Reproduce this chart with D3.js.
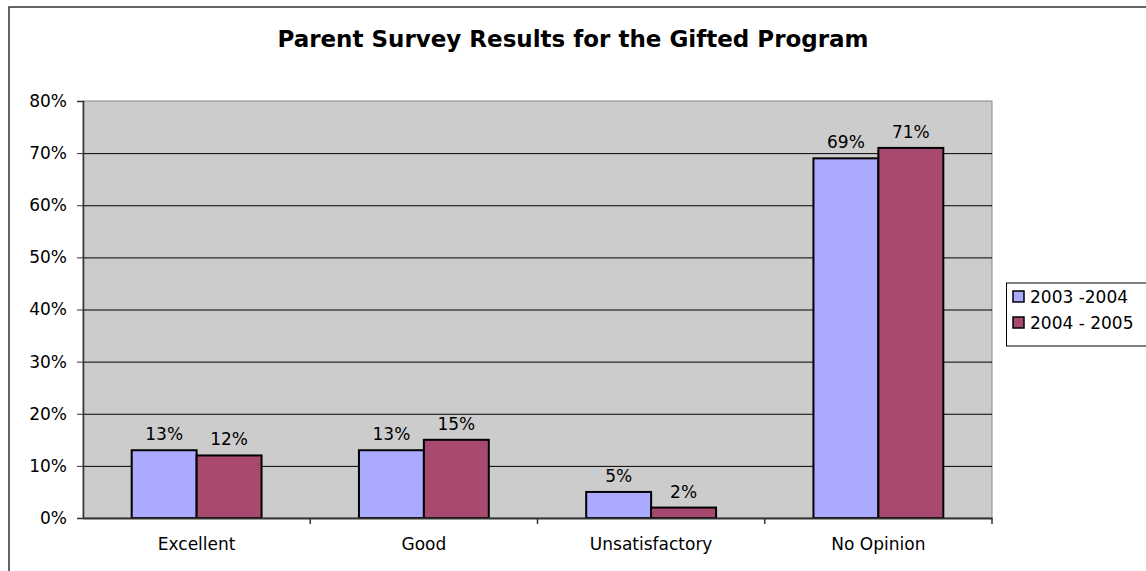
<!DOCTYPE html>
<html><head><meta charset="utf-8">
<script src="https://cdn.jsdelivr.net/npm/d3@7"></script>
<style>body{margin:0;background:#fff}svg{display:block}text{font-family:Verdana,"DejaVu Sans",sans-serif;fill:#000}</style>
</head><body>
<svg id="c" width="1146" height="571"></svg>
<script>
const categories = ["Excellent", "Good", "Unsatisfactory", "No Opinion"];
const seriesNames = ["2003 -2004", "2004 - 2005"];
const values2003 = [13, 13, 5, 69];
const values2004 = [12, 15, 2, 71];
const yTicks = [0, 10, 20, 30, 40, 50, 60, 70, 80];
const colors = ["#aaaaff", "#a8496f"];

const FONT = "Verdana, 'DejaVu Sans', sans-serif";
const svg = d3.select("#c");
const L = 83, R = 992, T = 101, B = 518;

svg.append("rect").attr("x", 9).attr("y", 7).attr("width", 1300).attr("height", 700)
  .attr("fill", "#fff").attr("stroke", "#333").attr("stroke-width", 1.5);

svg.append("text").attr("x", 573).attr("y", 47).attr("text-anchor", "middle")
  .style("font-weight", "bold").style("font-size", "23px")
  .text("Parent Survey Results for the Gifted Program");

const x = d3.scaleBand().domain(categories).range([L, R]).padding(0);
const y = d3.scaleLinear().domain([0, 80]).range([B, T]);

svg.append("rect").attr("x", L).attr("y", T).attr("width", R - L).attr("height", B - T)
  .attr("fill", "#cccccc").attr("stroke", "#888").attr("stroke-width", 1);

svg.append("g").selectAll("line").data(yTicks.filter(d => d > 0 && d < 80)).join("line")
  .attr("x1", L).attr("x2", R).attr("y1", d => y(d) + 0.5).attr("y2", d => y(d) + 0.5)
  .attr("stroke", "#000").attr("stroke-width", 1);

const bw = x.bandwidth() / 3.5;
const series = [values2003, values2004];
series.forEach((vals, si) => {
  const g = svg.append("g");
  g.selectAll("rect").data(categories).join("rect")
    .attr("x", (c) => x(c) + x.bandwidth() / 2 - bw + si * bw)
    .attr("y", (c, i) => y(vals[i]))
    .attr("width", bw)
    .attr("height", (c, i) => B - y(vals[i]))
    .attr("fill", colors[si]).attr("stroke", "#000").attr("stroke-width", 2);
  g.selectAll("text").data(categories).join("text")
    .attr("x", (c) => x(c) + x.bandwidth() / 2 - bw / 2 + si * bw)
    .attr("y", (c, i) => y(vals[i]) - 10)
    .attr("text-anchor", "middle").style("font-size", "17px")
    .text((c, i) => vals[i] + "%");
});

// Y axis
const yAxis = svg.append("g").attr("transform", `translate(${L},0)`)
  .call(d3.axisLeft(y).tickValues(yTicks).tickSize(6).tickFormat(d => d + "%"));
yAxis.select(".domain").attr("stroke", "#333").attr("stroke-width", 1.5);
yAxis.selectAll(".tick line").attr("stroke", "#333");
yAxis.selectAll(".tick text").style("font-size", "17px").attr("x", -16).attr("fill", "#000").style("font-family", FONT);

// X axis
const xAxis = svg.append("g").attr("transform", `translate(0,${B})`)
  .call(d3.axisBottom(x).tickSize(0));
xAxis.select(".domain").attr("stroke", "#333").attr("stroke-width", 2);
xAxis.selectAll(".tick text").style("font-size", "17px").attr("fill", "#000")
  .attr("y", 32).attr("dy", 0).style("font-family", FONT);
svg.append("g").selectAll("line").data(categories.slice(1).concat(["end"])).join("line")
  .attr("x1", (c, i) => i < 3 ? x(c) : R).attr("x2", (c, i) => i < 3 ? x(c) : R)
  .attr("y1", B).attr("y2", B + 6).attr("stroke", "#333").attr("stroke-width", 1.5);

// Legend
const lg = svg.append("g");
lg.append("rect").attr("x", 1006.5).attr("y", 283).attr("width", 200).attr("height", 63)
  .attr("fill", "#fff").attr("stroke", "#000").attr("stroke-width", 1);
seriesNames.forEach((n, i) => {
  lg.append("rect").attr("x", 1013).attr("y", 291 + i * 26).attr("width", 11).attr("height", 11)
    .attr("fill", colors[i]).attr("stroke", "#000").attr("stroke-width", 1.5);
  lg.append("text").attr("x", 1030).attr("y", 303 + i * 26).style("font-size", "17px").text(n);
});
</script>
</body></html>
